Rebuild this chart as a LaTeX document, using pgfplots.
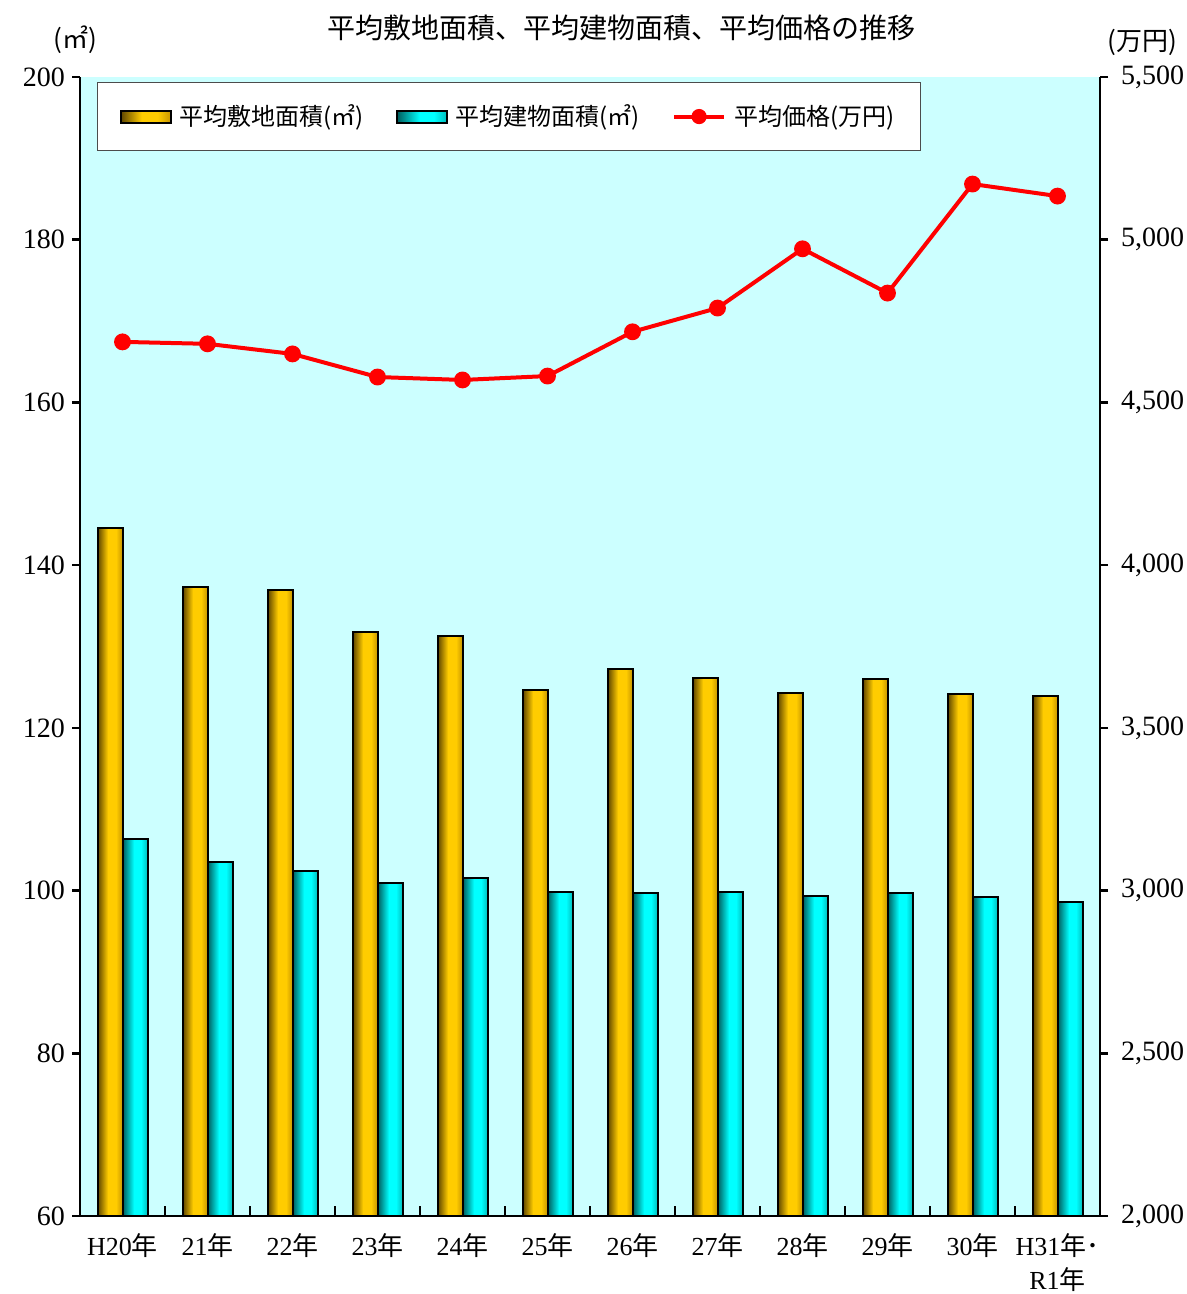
\documentclass[border=0pt]{standalone}
\usepackage{fontspec}
\setmainfont{Liberation Serif}
\newfontfamily\cjk{Noto Sans CJK JP}
\usepackage{pgfplots}
\pgfplotsset{compat=1.18}

\definecolor{bgcyan}{RGB}{204,255,255}
\definecolor{golddk}{RGB}{90,66,0}
\definecolor{goldlt}{RGB}{255,204,0}
\definecolor{goldmd}{RGB}{200,150,0}
\definecolor{cyandk}{RGB}{0,90,90}
\definecolor{cyanlt}{RGB}{0,255,255}
\definecolor{cyanmd}{RGB}{0,190,190}

\pgfdeclarehorizontalshading{goldbar}{100bp}{color(0bp)=(golddk); color(25bp)=(golddk); color(46bp)=(goldlt); color(62bp)=(goldlt); color(75bp)=(goldmd); color(100bp)=(goldmd)}
\pgfdeclarehorizontalshading{cyanbar}{100bp}{color(0bp)=(cyandk); color(25bp)=(cyandk); color(48bp)=(cyanlt); color(62bp)=(cyanlt); color(75bp)=(cyanmd); color(100bp)=(cyanmd)}

\pgfplotsset{
  site/.style={draw=black, line width=1pt, shade, shading=goldbar, bar shift=-6.25pt, forget plot},
  floor/.style={draw=black, line width=1pt, shade, shading=cyanbar, bar shift=6.25pt, forget plot},
}
% one \addplot per bar, so that each bar gets its own shading
\newcommand{\sitebar}[2]{\addplot[site] coordinates {(#1,#2)};}
\newcommand{\floorbar}[2]{\addplot[floor] coordinates {(#1,#2)};}
\newcommand{\nen}{{\cjk 年}}

\begin{document}
\begin{tikzpicture}
\path[use as bounding box] (-40pt,-39pt) rectangle (553.5pt,608pt);

% left axis: areas (bars)
\begin{axis}[
  at={(0pt,0pt)}, anchor=south west,
  scale only axis, width=510pt, height=569.5pt,
  xmin=-0.5, xmax=11.5, ymin=60, ymax=200,
  axis x line*=bottom, axis y line*=left,
  axis line style={line width=1.3pt},
  axis background/.style={fill=bgcyan},
  ybar, bar width=12.5pt,
  ytick={60,80,...,200},
  xtick={0,...,11},
  xticklabels={H20\nen,21\nen,22\nen,23\nen,24\nen,25\nen,26\nen,27\nen,28\nen,29\nen,30\nen,{H31{\cjk 年･}\\[2pt]R1\nen}},
  xticklabel style={font=\fontsize{13}{15}\selectfont, align=center, yshift=-5pt},
  yticklabel style={font=\fontsize{14}{16}\selectfont},
  /pgf/number format/assume math mode=true,
  major x tick style={draw=none},
  minor xtick={-0.5,0.5,...,11.5},
  minor x tick style={line width=1pt, black},
  minor tick length=5pt,
  major tick length=4pt,
  ytick style={line width=1.3pt, black},
  xtick align=inside, ytick align=outside,
  legend columns=3,
  legend cell align=left,
  legend style={at={(0.0167,0.9956)}, anchor=north west,
    draw=black!70, line width=0.6pt, fill=white,
    inner xsep=11pt, inner ysep=9pt,
    font=\fontsize{12}{14}\selectfont\cjk,
    /tikz/every even column/.append style={column sep=14pt},
    /tikz/every odd column/.append style={column sep=0pt}},
]
\addlegendimage{legend image code/.code={\draw[draw=black, line width=1pt, shade, shading=goldbar] (0pt,-3pt) rectangle (25pt,3pt);}}
\addlegendentry{\,平均敷地面積(㎡)}
\addlegendimage{legend image code/.code={\draw[draw=black, line width=1pt, shade, shading=cyanbar] (0pt,-3pt) rectangle (25pt,3pt);}}
\addlegendentry{\,平均建物面積(㎡)}
\addlegendimage{legend image code/.code={\draw[red, line width=2pt] (0pt,0pt) -- (25pt,0pt); \fill[red] (12.5pt,0pt) circle (3.5pt);}}
\addlegendentry{\,平均価格(万円)}

% 平均敷地面積 (m2)
\sitebar{0}{144.6} \sitebar{1}{137.3} \sitebar{2}{137.0} \sitebar{3}{131.8}
\sitebar{4}{131.3} \sitebar{5}{124.7} \sitebar{6}{127.2} \sitebar{7}{126.1}
\sitebar{8}{124.3} \sitebar{9}{126.0} \sitebar{10}{124.2} \sitebar{11}{123.9}
% 平均建物面積 (m2)
\floorbar{0}{106.3} \floorbar{1}{103.5} \floorbar{2}{102.4} \floorbar{3}{100.9}
\floorbar{4}{101.5} \floorbar{5}{99.8} \floorbar{6}{99.7} \floorbar{7}{99.8}
\floorbar{8}{99.3} \floorbar{9}{99.7} \floorbar{10}{99.2} \floorbar{11}{98.6}
\end{axis}

% right axis: price (line)
\begin{axis}[
  at={(0pt,0pt)}, anchor=south west,
  scale only axis, width=510pt, height=569.5pt,
  xmin=-0.5, xmax=11.5, ymin=2000, ymax=5500,
  axis x line=none, axis y line*=right,
  axis line style={line width=1.3pt},
  ytick={2000,2500,...,5500},
  scaled y ticks=false,
  /pgf/number format/1000 sep={,},
  /pgf/number format/assume math mode=true,
  yticklabel style={font=\fontsize{14}{16}\selectfont, xshift=3pt},
  major tick length=4pt,
  ytick style={line width=1.3pt, black},
  ytick align=outside,
]
\addplot[red, line width=2pt, mark=*, mark size=3.2pt, mark options={solid}]
  coordinates {(0,4686) (1,4680) (2,4649) (3,4578) (4,4569) (5,4581)
               (6,4717) (7,4790) (8,4972) (9,4836) (10,5171) (11,5134)};
\end{axis}

\node[font=\fontsize{14}{16}\selectfont\cjk] at (270.75pt,594pt) {平均敷地面積、平均建物面積、平均価格の推移};
\node[font=\fontsize{13}{15}\selectfont\cjk] at (-2.5pt,588pt) {(㎡)};
\node[font=\fontsize{13}{15}\selectfont\cjk] at (531pt,587pt) {(万円)};
\end{tikzpicture}
\end{document}
